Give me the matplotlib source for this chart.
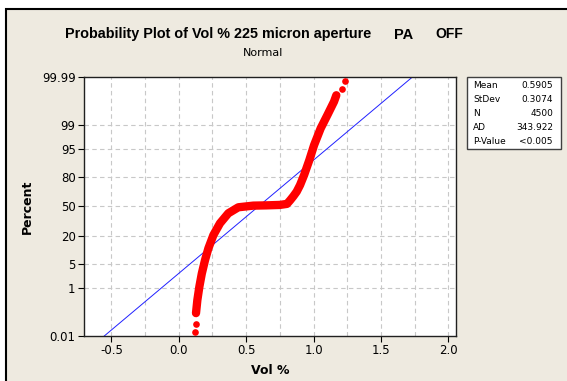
import numpy as np
import matplotlib
matplotlib.use('Agg')
import matplotlib.pyplot as plt
from matplotlib.patches import Rectangle
from statistics import NormalDist

# summary statistics of the sample
MEAN = 0.5905
STDEV = 0.3074
N = 4500
AD = 343.922
P_VALUE = '<0.005'

# empirical cumulative percent vs Vol % (dense part of the sample)
vol = [0.128, 0.138, 0.153, 0.171, 0.195, 0.220, 0.257, 0.306, 0.368, 0.442,
       0.553, 0.650, 0.750, 0.803, 0.826, 0.850, 0.875, 0.900, 0.930, 0.969,
       1.004, 1.053, 1.103, 1.152, 1.169]
pct = [0.11, 0.36, 1.07, 2.7, 6.2, 11.5, 20.6, 31.5, 42.3, 49.1,
       51.0, 51.3, 51.8, 53.0, 57.0, 61.5, 66.5, 73.1, 81.7, 90.9,
       96.1, 98.76, 99.57, 99.87, 99.93]

# isolated points in the tails
tail_vol = [0.121, 0.125, 1.209, 1.234]
tail_pct = [0.016, 0.038, 99.963, 99.984]

X_TICKS = [-0.5, 0.0, 0.5, 1.0, 1.5, 2.0]
X_GRID = [-0.5, -0.25, 0.0, 0.25, 0.5, 0.75, 1.0, 1.25, 1.5, 1.75, 2.0]
Y_TICKS = [0.01, 1, 5, 20, 50, 80, 95, 99, 99.99]
Y_LABELS = ['0.01', '1', '5', '20', '50', '80', '95', '99', '99.99']

W, H = 567, 381
BG = '#eeeae0'
_nd = NormalDist()


def _ppf(p):
    if not np.isfinite(p):
        return np.nan
    return _nd.inv_cdf(min(max(p / 100.0, 1e-12), 1 - 1e-12))


def _cdf(z):
    if not np.isfinite(z):
        return np.nan
    return _nd.cdf(z) * 100.0


to_z = np.vectorize(_ppf, otypes=[float])
from_z = np.vectorize(_cdf, otypes=[float])


def fx(x):
    return x / W


def fy(y):
    return 1 - y / H


fig = plt.figure(figsize=(W / 100, H / 100), dpi=100)
fig.patch.set_facecolor('white')
fig.patches.append(Rectangle((fx(6), -0.1), 1.2, fy(9) + 0.1, transform=fig.transFigure,
                             facecolor=BG, edgecolor='black', linewidth=1.5, zorder=-5))

ax = fig.add_axes([fx(84), fy(336), fx(456) - fx(84), fy(77) - fy(336)])
ax.set_yscale('function', functions=(to_z, from_z))
ax.set_facecolor('white')

for g in X_GRID:
    ax.axvline(g, color='#c8c8c8', lw=0.8, ls=(0, (4, 3)), zorder=0)
for t in Y_TICKS[1:-1]:
    ax.axhline(t, color='#c8c8c8', lw=0.8, ls=(0, (4, 3)), zorder=0)

# fitted normal line, end to end on the probability scale
p_ends = np.array([Y_TICKS[0], Y_TICKS[-1]])
x_ends = MEAN + STDEV * np.array([_nd.inv_cdf(p / 100) for p in p_ends])
ax.plot(x_ends, p_ends, color='#2020ff', lw=0.7, zorder=2)

ax.plot(vol, pct, color='#ff0000', lw=6, solid_capstyle='round', solid_joinstyle='round', zorder=3)
ax.plot(tail_vol, tail_pct, 'o', color='#ff0000', ms=4.8, mec='none', zorder=3)

ax.set_xlim(-0.703, 2.057)
ax.set_ylim(Y_TICKS[0], Y_TICKS[-1])
ax.set_xticks(X_TICKS)
ax.set_xticklabels(['%.1f' % v for v in X_TICKS])
ax.set_yticks(Y_TICKS)
ax.set_yticklabels(Y_LABELS)
ax.minorticks_off()
ax.tick_params(direction='out', length=4, width=0.8, labelsize=8.5, colors='black', pad=2)
for s in ax.spines.values():
    s.set_linewidth(1.0)
    s.set_color('#202020')

ax.set_xlabel('Vol %', fontsize=9, fontweight='bold', labelpad=5)
ax.set_ylabel('Percent', fontsize=9, fontweight='bold', labelpad=6)

fig.text(fx(218), fy(34), 'Probability Plot of Vol % 225 micron aperture', ha='center', va='center',
         fontsize=10.4, fontweight='bold', family='Liberation Sans')
fig.text(fx(404), fy(35), 'PA', ha='center', va='center', fontsize=10.5, fontweight='bold', family='Liberation Sans')
fig.text(fx(449), fy(34), 'OFF', ha='center', va='center', fontsize=10, fontweight='bold', family='Liberation Sans')
fig.text(fx(263), fy(53), 'Normal', ha='center', va='center', fontsize=8)

# summary box
fig.patches.append(Rectangle((fx(467), fy(149)), fx(561) - fx(467), fy(77) - fy(149),
                             transform=fig.transFigure, facecolor='white', edgecolor='#404040',
                             linewidth=1.0, zorder=1))
rows = [('Mean', '%.4f' % MEAN), ('StDev', '%.4f' % STDEV), ('N', str(N)),
        ('AD', '%.3f' % AD), ('P-Value', P_VALUE)]
for i, (k, v) in enumerate(rows):
    y = fy(86 + i * 13.8)
    fig.text(fx(473), y, k, ha='left', va='center', fontsize=6.5)
    fig.text(fx(553), y, v, ha='right', va='center', fontsize=6.5)

fig.savefig('out.png', dpi=100, facecolor=fig.get_facecolor())
